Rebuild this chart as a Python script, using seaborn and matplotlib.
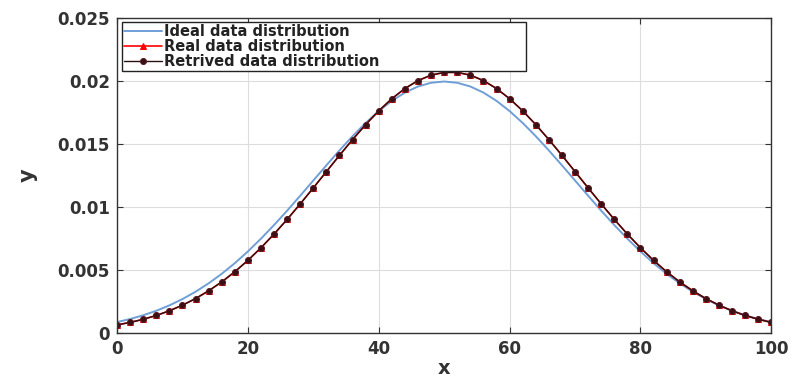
import pandas as pd
import seaborn as sns
import matplotlib.pyplot as plt

x_vals = list(range(0, 101, 2))

ideal_left = [0.000877, 0.001120, 0.001416, 0.001774, 0.002200, 0.002700, 0.003282,
              0.003948, 0.004703, 0.005546, 0.006477, 0.007488, 0.008570, 0.009711,
              0.010895, 0.012100, 0.013306, 0.014486, 0.015615, 0.016665, 0.017606,
              0.018416, 0.019072, 0.019555, 0.019850]
ideal_peak = [0.019950]
ideal_y = ideal_left + ideal_peak + ideal_left[::-1]

real_left = [0.000651, 0.000850, 0.001098, 0.001401, 0.001771, 0.002215, 0.002739,
             0.003354, 0.004060, 0.004865, 0.005767, 0.006767, 0.007852, 0.009017,
             0.010245, 0.011516, 0.012807, 0.014095, 0.015347, 0.016533, 0.017624,
             0.018587, 0.019394, 0.020023, 0.020453, 0.020672]
real_right = [0.020672, 0.020453, 0.020023, 0.019394, 0.018587, 0.017624, 0.016533,
              0.015347, 0.014095, 0.012807, 0.011516, 0.010245, 0.009017, 0.007852,
              0.006767, 0.005767, 0.004865, 0.004060, 0.003354, 0.002739, 0.002215,
              0.001771, 0.001401, 0.001098, 0.000850]
real_y = real_left + real_right
retrieved_y = list(real_y)

x_ticks = [0, 20, 40, 60, 80, 100]
y_ticks = [0, 0.005, 0.01, 0.015, 0.02, 0.025]
y_ticklabels = ['0', '0.005', '0.01', '0.015', '0.02', '0.025']

df = pd.DataFrame({'x': x_vals, 'ideal': ideal_y, 'real': real_y, 'retrieved': retrieved_y})

sns.set_style('ticks')
plt.rcParams['font.family'] = ['DejaVu Sans']
plt.rcParams['font.weight'] = 'bold'

fig = plt.figure(figsize=(7.96, 3.79), dpi=100)
ax = fig.add_axes([0.147, 0.121, 0.822, 0.832])

sns.lineplot(data=df, x='x', y='ideal', ax=ax, color='#6f9fd6', lw=1.4,
             label='Ideal data distribution')
sns.lineplot(data=df, x='x', y='real', ax=ax, color='red', lw=1.2, marker='^',
             markersize=4, markeredgecolor='red', label='Real data distribution')
sns.lineplot(data=df, x='x', y='retrieved', ax=ax, color='#2a1010', lw=1.0, marker='o',
             markersize=4.3, markerfacecolor='#3a0f15', markeredgecolor='#5a1a20',
             label='Retrived data distribution')

ax.set_xlim(0, 100)
ax.set_ylim(0, 0.025)
ax.set_xticks(x_ticks)
ax.set_yticks(y_ticks)
ax.set_yticklabels(y_ticklabels)
ax.tick_params(direction='in', top=True, right=True, labelsize=12, length=4,
               color='#333333', pad=5)
for lab in ax.get_xticklabels() + ax.get_yticklabels():
    lab.set_fontweight('bold')
    lab.set_color('#333333')
ax.grid(True, color='#dddddd', lw=0.8)
for s in ax.spines.values():
    s.set_color('#333333')
    s.set_linewidth(1.0)

ax.set_xlabel('x', fontsize=14, fontweight='bold', labelpad=1, color='#333333')
ax.set_ylabel('y', fontsize=15, fontweight='bold', labelpad=14, color='#333333')

leg = ax.legend(loc='upper left', bbox_to_anchor=(0.0076, 0.0, 0.618, 0.988),
                mode='expand', fontsize=10.5,
                frameon=True, fancybox=False, edgecolor='#222222', framealpha=1,
                handlelength=2.6, handletextpad=0.1, labelspacing=0.0,
                borderpad=0.15, borderaxespad=0.0)
leg.get_frame().set_linewidth(1.0)
for t in leg.get_texts():
    t.set_fontweight('bold')
    t.set_color('#222222')

plt.savefig('out.png', dpi=100)
